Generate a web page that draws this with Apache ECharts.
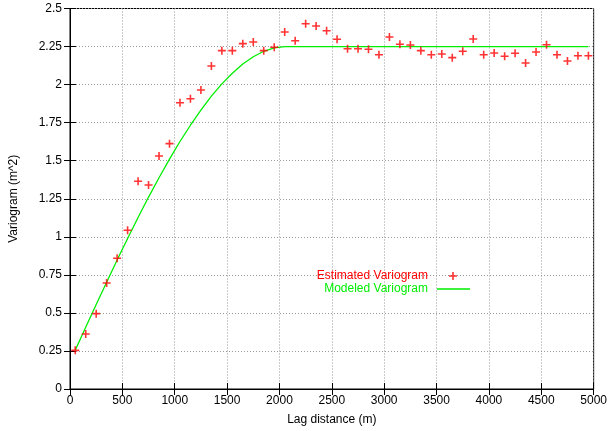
<!DOCTYPE html>
<html>
<head>
<meta charset="utf-8">
<script src="https://cdn.jsdelivr.net/npm/echarts@6/dist/echarts.min.js"></script>
<style>
html,body{margin:0;padding:0;background:#fff;}
#c{width:610px;height:431px;}
</style>
</head>
<body>
<div id="c"></div>
<script>
// Estimated variogram (lag distance m, value m^2)
const lagDist = [50,150,250,350,450,550,650,750,850,950,1050,1150,1250,1350,1450,1550,1650,1750,1850,1950,
  2050,2150,2250,2350,2450,2550,2650,2750,2850,2950,3050,3150,3250,3350,3450,3550,3650,3750,3850,3950,
  4050,4150,4250,4350,4450,4550,4650,4750,4850,4950];
const estimated = [0.254,0.361,0.495,0.696,0.859,1.043,1.365,1.340,1.531,1.612,1.881,1.907,1.965,2.122,2.223,2.223,2.269,2.280,2.223,2.245,
  2.346,2.288,2.400,2.385,2.354,2.298,2.236,2.236,2.232,2.196,2.313,2.265,2.260,2.223,2.196,2.201,2.177,2.219,2.300,2.196,
  2.208,2.186,2.206,2.142,2.214,2.262,2.196,2.155,2.190,2.190];
// Modeled variogram
const modelDist = [50,150,250,350,450,550,650,750,850,950,1050,1150,1250,1350,1450,1550,1650,1750,1850,1950,2050,4950];
const modeled = [0.255,0.406,0.555,0.702,0.848,0.989,1.127,1.261,1.388,1.510,1.626,1.733,1.833,1.924,2.005,2.075,2.135,2.183,2.219,2.241,2.250,2.250];
const xTicks = {min:0, max:5000, interval:500};
const yTicks = {min:0, max:2.5, interval:0.25};

const plusPath = 'path://M4,0 L6,0 L6,4 L10,4 L10,6 L6,6 L6,10 L4,10 L4,6 L0,6 L0,4 L4,4 Z';
const linePath = 'path://M0,0 L33,0 L33,1.3 L0,1.3 Z';
const font = 'Liberation Sans';
const chart = echarts.init(document.getElementById('c'));
const tickStyle = {show:true, inside:true, length:6, lineStyle:{color:'#000', width:1}};
const fmt = v => String(v);
chart.setOption({
  animation:false,
  backgroundColor:'#fff',
  grid:{left:68, right:15, top:8.5, bottom:42, show:true, borderColor:'#000', borderWidth:1},
  legend:[
    {data:[{name:'Estimated Variogram', icon:plusPath}], align:'right', right:153, top:270, padding:0,
     itemWidth:8, itemHeight:8, textStyle:{color:'#ff0000', fontFamily:font, fontSize:12, padding:[0,16,0,0]}},
    {data:[{name:'Modeled Variogram', icon:linePath}], align:'right', right:140, top:283, padding:0,
     itemWidth:33, itemHeight:8, textStyle:{color:'#00ee00', fontFamily:font, fontSize:12, padding:[0,4,0,0]}}
  ],
  xAxis:[
    {type:'value', min:xTicks.min, max:xTicks.max, interval:xTicks.interval,
     name:'Lag distance (m)', nameLocation:'middle', nameGap:25,
     nameTextStyle:{fontFamily:font, fontSize:12, color:'#000'},
     axisLine:{lineStyle:{color:'#000'}}, axisTick:tickStyle,
     axisLabel:{fontFamily:font, fontSize:12, color:'#000', margin:6, formatter:fmt},
     splitLine:{show:true, lineStyle:{color:'#999', type:[1,2], width:1}}},
    {type:'value', position:'top', min:xTicks.min, max:xTicks.max, interval:xTicks.interval,
     axisLine:{show:true, lineStyle:{color:'#000'}}, axisTick:tickStyle, axisLabel:{show:false}, splitLine:{show:false}}
  ],
  yAxis:[
    {type:'value', min:yTicks.min, max:yTicks.max, interval:yTicks.interval,
     name:'Variogram (m^2)', nameLocation:'middle', nameGap:50, nameRotate:90,
     nameTextStyle:{fontFamily:font, fontSize:12, color:'#000'},
     axisLine:{show:true, lineStyle:{color:'#000'}}, axisTick:tickStyle,
     axisLabel:{fontFamily:font, fontSize:12, color:'#000', margin:8, formatter:fmt},
     splitLine:{show:true, lineStyle:{color:'#999', type:[1,2], width:1}}},
    {type:'value', position:'right', min:yTicks.min, max:yTicks.max, interval:yTicks.interval,
     axisLine:{show:true, lineStyle:{color:'#000'}}, axisTick:tickStyle,
     axisLabel:{show:false}, splitLine:{show:false}}
  ],
  series:[
    {name:'Modeled Variogram', type:'line', symbol:'none', smooth:false,
     lineStyle:{color:'#00ee00', width:1.3}, itemStyle:{color:'#00ee00'},
     data:modelDist.map((d,i)=>[d, modeled[i]]), z:3},
    {name:'Estimated Variogram', type:'scatter', symbol:plusPath, symbolSize:8,
     itemStyle:{color:'#ff0000'},
     data:lagDist.map((d,i)=>[d, estimated[i]]), z:4}
  ]
});
</script>
</body>
</html>
